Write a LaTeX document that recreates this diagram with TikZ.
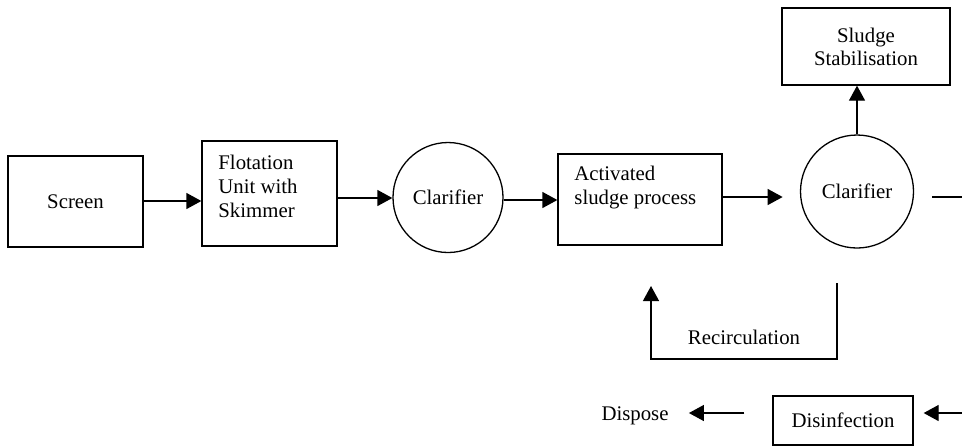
\documentclass[tikz,border=0pt]{standalone}
\usepackage{fontspec}
\setmainfont{Liberation Serif}
\usetikzlibrary{arrows.meta,positioning}
\newcommand{\plantfont}{\fontsize{10.4}{12}\selectfont}
\tikzset{
  >={Triangle[length=7.5pt,width=8pt]},
  unit/.style={draw,line width=0.65pt,inner sep=0pt,align=center,font=\plantfont},
  tank/.style={unit,circle,minimum size=#1},
  tank/.default=55pt,
  tag/.style={inner sep=0pt,align=left,font=\plantfont},
  flow/.style={->,line width=0.65pt},
  pipe/.style={line width=0.65pt},
}
\begin{document}
\begin{tikzpicture}[x=0.5pt,y=-0.5pt]
  \useasboundingbox (0,0) rectangle (962,447);
  % main line
  \node[unit,minimum width=67.5pt,minimum height=45.5pt] (screen) at (75.5,201.5) {Screen};
  \node[unit,minimum width=67.5pt,minimum height=52.5pt] (flot) at (269.5,193.5) {};
  \node[tag,anchor=west] at (218,186) {Flotation\\Unit with\\Skimmer};
  \node[tank] (clar1) at (448,197.5) {Clarifier};
  \node[unit,minimum width=82pt,minimum height=45.5pt] (asp) at (640,199.5) {};
  \node[tag,anchor=west] at (574,187.5) {Activated\\sludge process};
  \node[tank=56.5pt] (clar2) at (857,191.5) {Clarifier};
  \node[unit,minimum width=84pt,minimum height=38.5pt] (stab) at (866,46.5) {Sludge\\[-0.5pt]Stabilisation};
  % effluent line
  \node[unit,minimum width=70pt,minimum height=24.5pt] (disinf) at (843,420.5) {Disinfection};
  \node[tag] (dispose) at (635,416) {Dispose};
  \coordinate (outR) at (962,197);
  \coordinate (inR) at (962,413);
  \coordinate (recTop) at (837,283);
  \coordinate (recEnd) at (651,286);

  \draw[flow] (screen.east |- 0,201) -- (flot.west |- 0,201);
  \draw[flow] (flot.east |- 0,198) -- (clar1.west |- 0,198);
  \draw[flow] (clar1.east |- 0,200) -- (asp.west |- 0,200);
  \draw[flow] (asp.east |- 0,197) -- ++(60,0);
  \draw[flow] (clar2.north) -- (stab.south -| clar2.north);
  \draw[pipe] ([xshift=9pt]clar2.east |- outR) -- (outR);
  \draw[flow] (recTop) |- (651,359) node[pos=0.75,above=7pt,tag] {Recirculation} -- (recEnd);
  \draw[flow] (inR) -- ([xshift=5pt]disinf.east |- inR);
  \draw[flow] ([xshift=-14pt]disinf.west |- 0,413) -- ([xshift=10pt]dispose.east |- 0,413);
\end{tikzpicture}
\end{document}
